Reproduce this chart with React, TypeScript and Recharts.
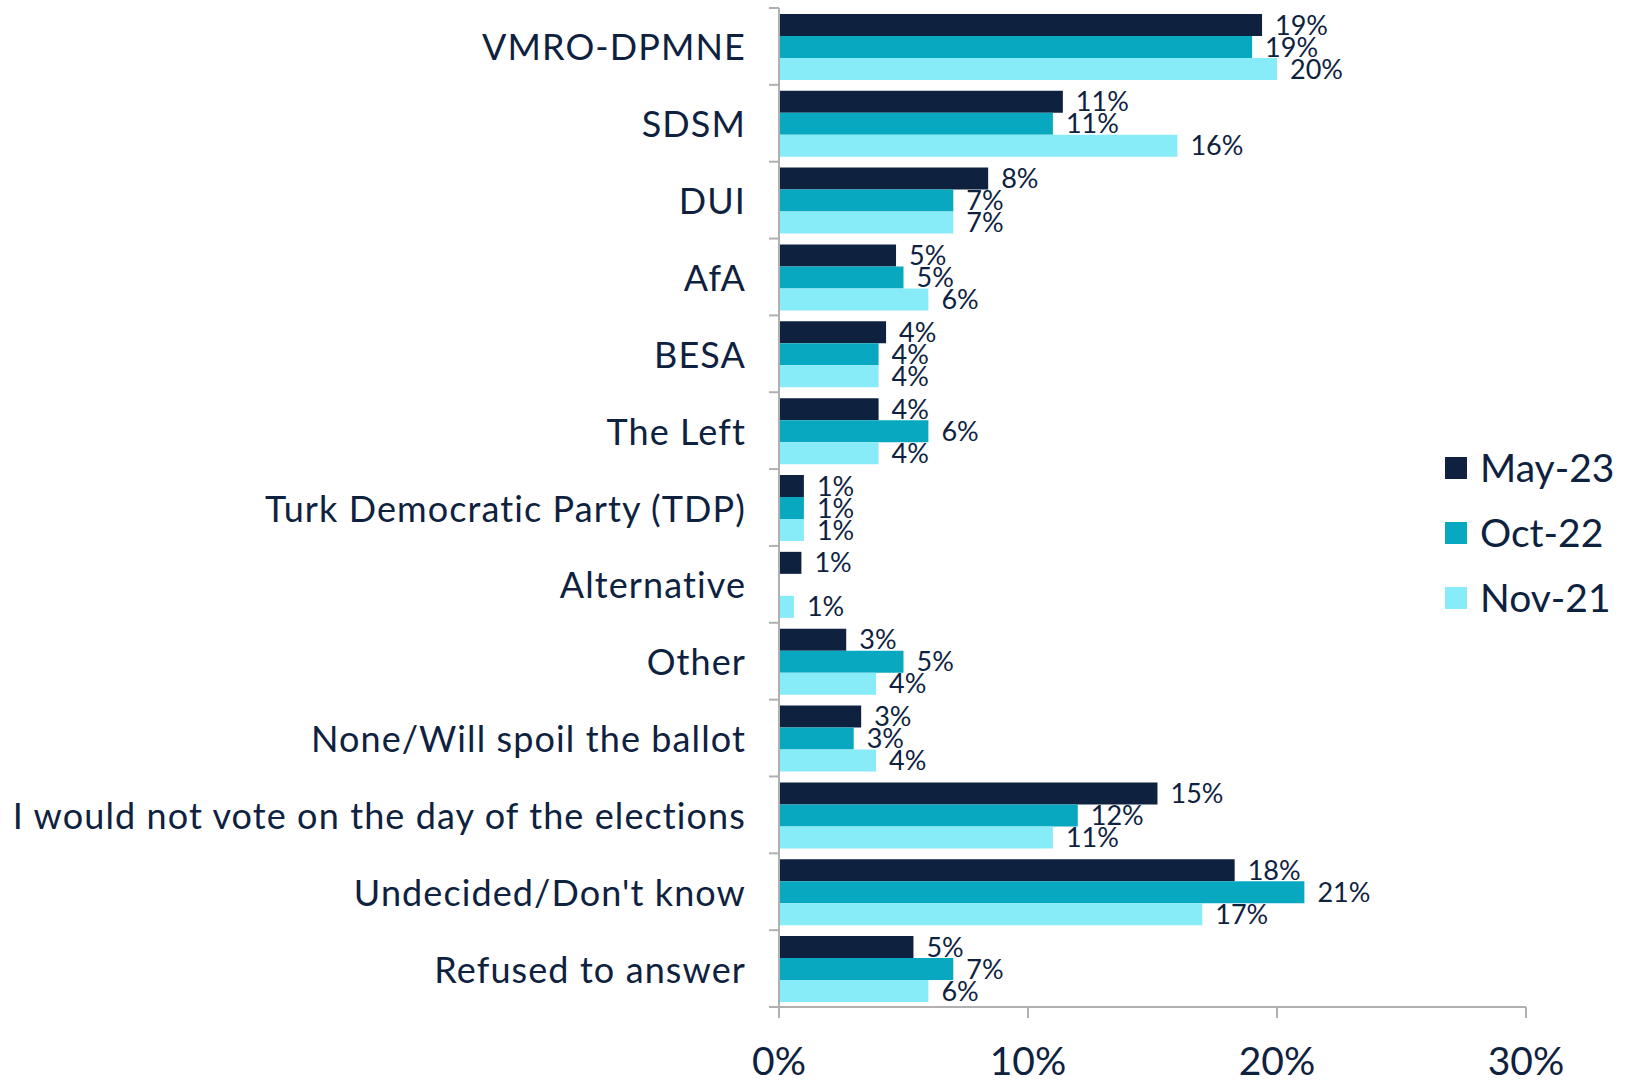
import { BarChart, Bar, XAxis, YAxis, LabelList } from "recharts";

const categories = [
  "VMRO-DPMNE",
  "SDSM",
  "DUI",
  "AfA",
  "BESA",
  "The Left",
  "Turk Democratic Party (TDP)",
  "Alternative",
  "Other",
  "None/Will spoil the ballot",
  "I would not vote on the day of the elections",
  "Undecided/Don't know",
  "Refused to answer",
];

const may23 = [19.4, 11.4, 8.4, 4.7, 4.3, 4.0, 1.0, 0.9, 2.7, 3.3, 15.2, 18.3, 5.4];
const oct22 = [19.0, 11.0, 7.0, 5.0, 4.0, 6.0, 1.0, null, 5.0, 3.0, 12.0, 21.1, 7.0];
const nov21 = [20.0, 16.0, 7.0, 6.0, 4.0, 4.0, 1.0, 0.6, 3.9, 3.9, 11.0, 17.0, 6.0];

const xTicks = [0, 10, 20, 30];

const SERIES = [
  { key: "may23", name: "May-23", color: "#0E2240" },
  { key: "oct22", name: "Oct-22", color: "#08A8C0" },
  { key: "nov21", name: "Nov-21", color: "#87EBF8" },
];

const data = categories.map((c, i) => ({
  category: c,
  may23: may23[i],
  oct22: oct22[i],
  nov21: nov21[i],
}));

const TEXT = "#0E2240";
const AXIS = "#B0B0B0";
const FONT = "Lato, 'DejaVu Sans', sans-serif";

const W = 1627;
const H = 1081;
const MARGIN = { top: 8, right: 101, bottom: 0, left: 0 };
const X_AXIS_H = 74;
const PLOT_H = H - MARGIN.top - MARGIN.bottom - X_AXIS_H;
const BAND = PLOT_H / categories.length;
const LABEL_GAP = 33;

function CategoryTick(props: any) {
  const { x, y, payload, index } = props;
  const ax = x + LABEL_GAP;
  return (
    <g>
      <line x1={ax - 10} x2={ax} y1={y - BAND / 2} y2={y - BAND / 2} stroke={AXIS} strokeWidth={2} />
      {index === categories.length - 1 && (
        <line x1={ax - 10} x2={ax} y1={y + BAND / 2} y2={y + BAND / 2} stroke={AXIS} strokeWidth={2} />
      )}
      <text
        x={x}
        y={y}
        textAnchor="end"
        dominantBaseline="central"
        fill={TEXT}
        fontSize={36}
        fontFamily={FONT}
        letterSpacing={1.1}
      >
        {payload.value}
      </text>
    </g>
  );
}

const fmt = (v: any) => (v === null || v === undefined ? "" : `${Math.round(Number(v))}%`);

export default function App() {
  return (
    <div style={{ position: "absolute", left: 0, top: 0, width: W, height: H, background: "#fff", fontFamily: FONT }}>
      <BarChart
        width={W}
        height={H}
        data={data}
        layout="vertical"
        margin={MARGIN}
        barCategoryGap="7.7%"
        barGap={0}
      >
        <XAxis
          type="number"
          domain={[0, 30]}
          ticks={xTicks}
          tickFormatter={(v: number) => `${v}%`}
          height={X_AXIS_H}
          stroke={AXIS}
          strokeWidth={2}
          tickSize={11}
          tickMargin={29}
          tick={{ fill: TEXT, fontSize: 39, fontFamily: FONT }}
        />
        <YAxis
          type="category"
          dataKey="category"
          width={779}
          stroke={AXIS}
          strokeWidth={2}
          tickLine={false}
          tickSize={0}
          tickMargin={LABEL_GAP}
          interval={0}
          tick={<CategoryTick />}
        />
        {SERIES.map((s) => (
          <Bar key={s.key} dataKey={s.key} name={s.name} fill={s.color} isAnimationActive={false}>
            <LabelList
              dataKey={s.key}
              position="right"
              offset={13}
              formatter={fmt}
              fill={TEXT}
              fontSize={27}
              fontFamily={FONT}
            />
          </Bar>
        ))}
      </BarChart>
      <div style={{ position: "absolute", left: 1445, top: 435, color: TEXT }}>
        {SERIES.map((s) => (
          <div key={s.key} style={{ display: "flex", alignItems: "center", height: 65 }}>
            <span style={{ width: 22, height: 22, background: s.color, display: "inline-block", marginRight: 13 }} />
            <span style={{ fontSize: 39, lineHeight: "39px" }}>{s.name}</span>
          </div>
        ))}
      </div>
    </div>
  );
}
